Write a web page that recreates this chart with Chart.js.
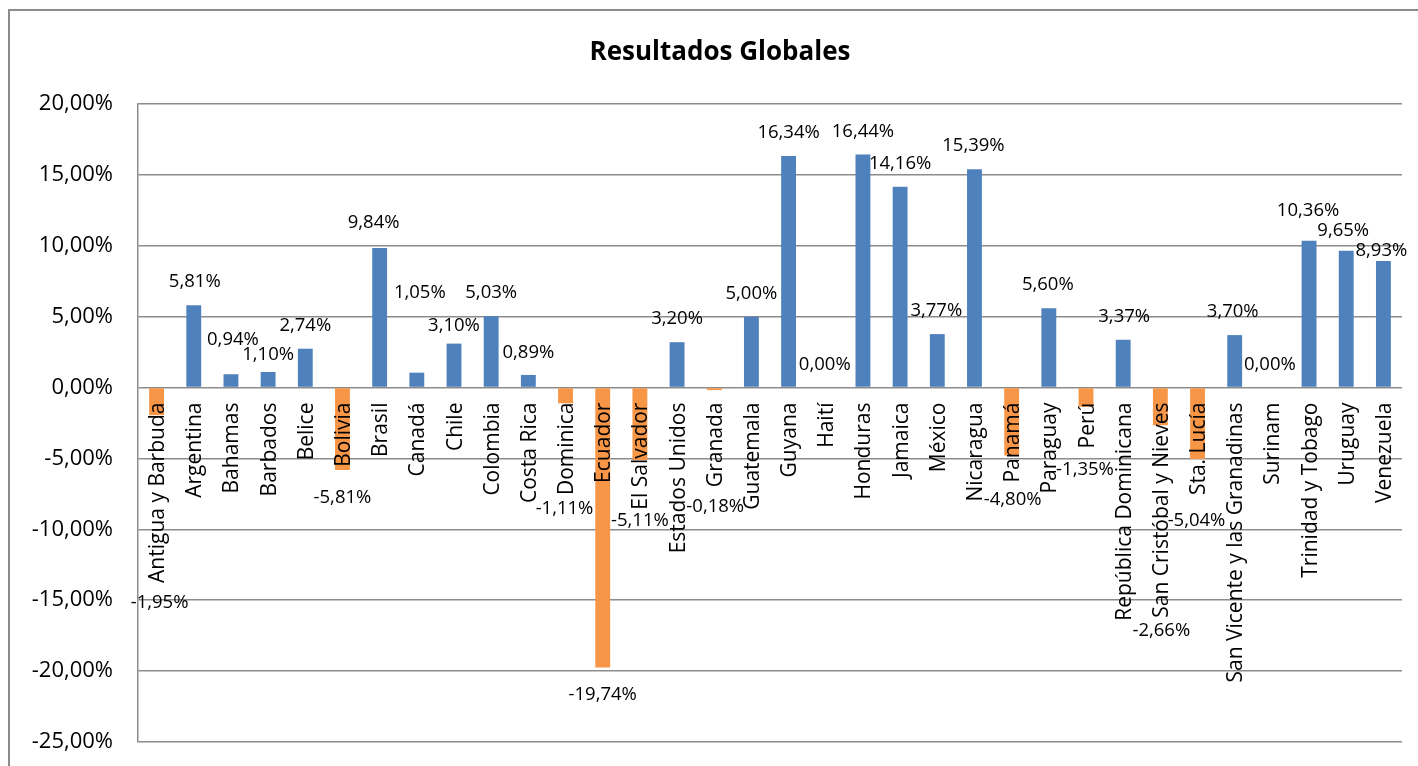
<!DOCTYPE html>
<html>
<head>
<meta charset="utf-8">
<script src="https://cdn.jsdelivr.net/npm/chart.js@4/dist/chart.umd.min.js"></script>
<style>
html,body{margin:0;padding:0;background:#fff;overflow:hidden;}
canvas{display:block;}
</style>
</head>
<body>
<canvas id="c" width="1418" height="766" style="width:1418px;height:766px;"></canvas>
<script>
const chartTitle = "Resultados Globales";
const categories = ["Antigua y Barbuda","Argentina","Bahamas","Barbados","Belice","Bolivia","Brasil","Canadá","Chile","Colombia","Costa Rica","Dominica","Ecuador","El Salvador","Estados Unidos","Granada","Guatemala","Guyana","Haití","Honduras","Jamaica","México","Nicaragua","Panamá","Paraguay","Perú","República Dominicana","San Cristóbal y Nieves","Sta. Lucía","San Vicente y las Granadinas","Surinam","Trinidad y Tobago","Uruguay","Venezuela"];
const values = [-1.95,5.81,0.94,1.10,2.74,-5.81,9.84,1.05,3.10,5.03,0.89,-1.11,-19.74,-5.11,3.20,-0.18,5.00,16.34,0.00,16.44,14.16,3.77,15.39,-4.80,5.60,-1.35,3.37,-2.66,-5.04,3.70,0.00,10.36,9.65,8.93];
const yTickValues = [20,15,10,5,0,-5,-10,-15,-20,-25];
// label nudges (pixels) relative to the default outside-end placement
const labelNudgeX = [3,1,2,0,0,0,-6,3,0,0,0,-1,0,0,0,1,0,0,-1,0,0,-1,-1,1,-1,-1,1,1,-1,-2,-2,-1,-3,-2];
const labelNudgeY = [160.5,0,-11,6,0,1,-2,-57,5.5,-0.5,1,79,0,34,0,90,0,0,0,0,0,0,0,17,0,36,0,179,35,0,0,-7,3,13];

const BLUE = '#4F81BD', ORANGE = '#F79646', GRID = '#8c8c8c';
const FONT = "'Open Sans', sans-serif";
const fmt = v => v.toFixed(2).replace('.', ',') + '%';

const framePlugin = {
  id: 'frame',
  beforeDraw(chart) {
    const ctx = chart.ctx;
    ctx.save();
    ctx.strokeStyle = GRID;
    ctx.lineWidth = 2;
    ctx.beginPath();
    ctx.moveTo(9, 766);
    ctx.lineTo(9, 10);
    ctx.lineTo(1418, 10);
    ctx.stroke();
    ctx.fillStyle = '#000';
    ctx.font = "bold 26px " + FONT;
    ctx.textAlign = 'center';
    ctx.textBaseline = 'alphabetic';
    ctx.fillText(chartTitle, 720, 60);
    ctx.restore();
  }
};

const labelsPlugin = {
  id: 'cats',
  afterDatasetsDraw(chart) {
    const ctx = chart.ctx;
    const meta = chart.getDatasetMeta(0);
    const y0 = chart.scales.y.getPixelForValue(0);
    ctx.save();
    ctx.fillStyle = '#000';
    ctx.font = "21px " + FONT;
    ctx.textAlign = 'right';
    ctx.textBaseline = 'alphabetic';
    meta.data.forEach((el, i) => {
      ctx.save();
      ctx.translate(el.x, y0 + 15);
      ctx.rotate(-Math.PI / 2);
      ctx.fillText(categories[i], 0, 7.5);
      ctx.restore();
    });
    ctx.font = "18.5px " + FONT;
    ctx.textAlign = 'center';
    meta.data.forEach((el, i) => {
      const v = values[i];
      const cy = (v >= 0 ? el.y - 24.5 : el.y + 25.5) + labelNudgeY[i];
      ctx.fillText(fmt(v), el.x + labelNudgeX[i], cy + 6.6);
    });
    ctx.restore();
  }
};

new Chart(document.getElementById('c'), {
  type: 'bar',
  data: {
    labels: categories,
    datasets: [{
      data: values,
      backgroundColor: values.map(v => v < 0 ? ORANGE : BLUE),
      borderWidth: 0,
      barPercentage: 0.4,
      categoryPercentage: 1
    }]
  },
  options: {
    responsive: false,
    maintainAspectRatio: false,
    devicePixelRatio: 1,
    animation: false,
    layout: { padding: { top: 104, right: 16, bottom: 24, left: 0 } },
    plugins: { legend: { display: false }, title: { display: false }, tooltip: { enabled: false } },
    scales: {
      x: { display: false },
      y: {
        min: -25, max: 20,
        afterBuildTicks(scale) { scale.ticks = yTickValues.map(v => ({ value: v })); },
        afterFit(scale) { scale.width = 138; },
        ticks: {
          callback: v => fmt(v),
          color: '#000',
          font: { family: FONT, size: 22 },
          padding: 8
        },
        grid: { color: GRID, lineWidth: 1.5, drawTicks: true, tickLength: 17, tickColor: 'rgba(0,0,0,0)', tickWidth: 0 },
        border: { display: true, color: GRID, width: 1.5 }
      }
    }
  },
  plugins: [framePlugin, labelsPlugin]
});
</script>
</body>
</html>
